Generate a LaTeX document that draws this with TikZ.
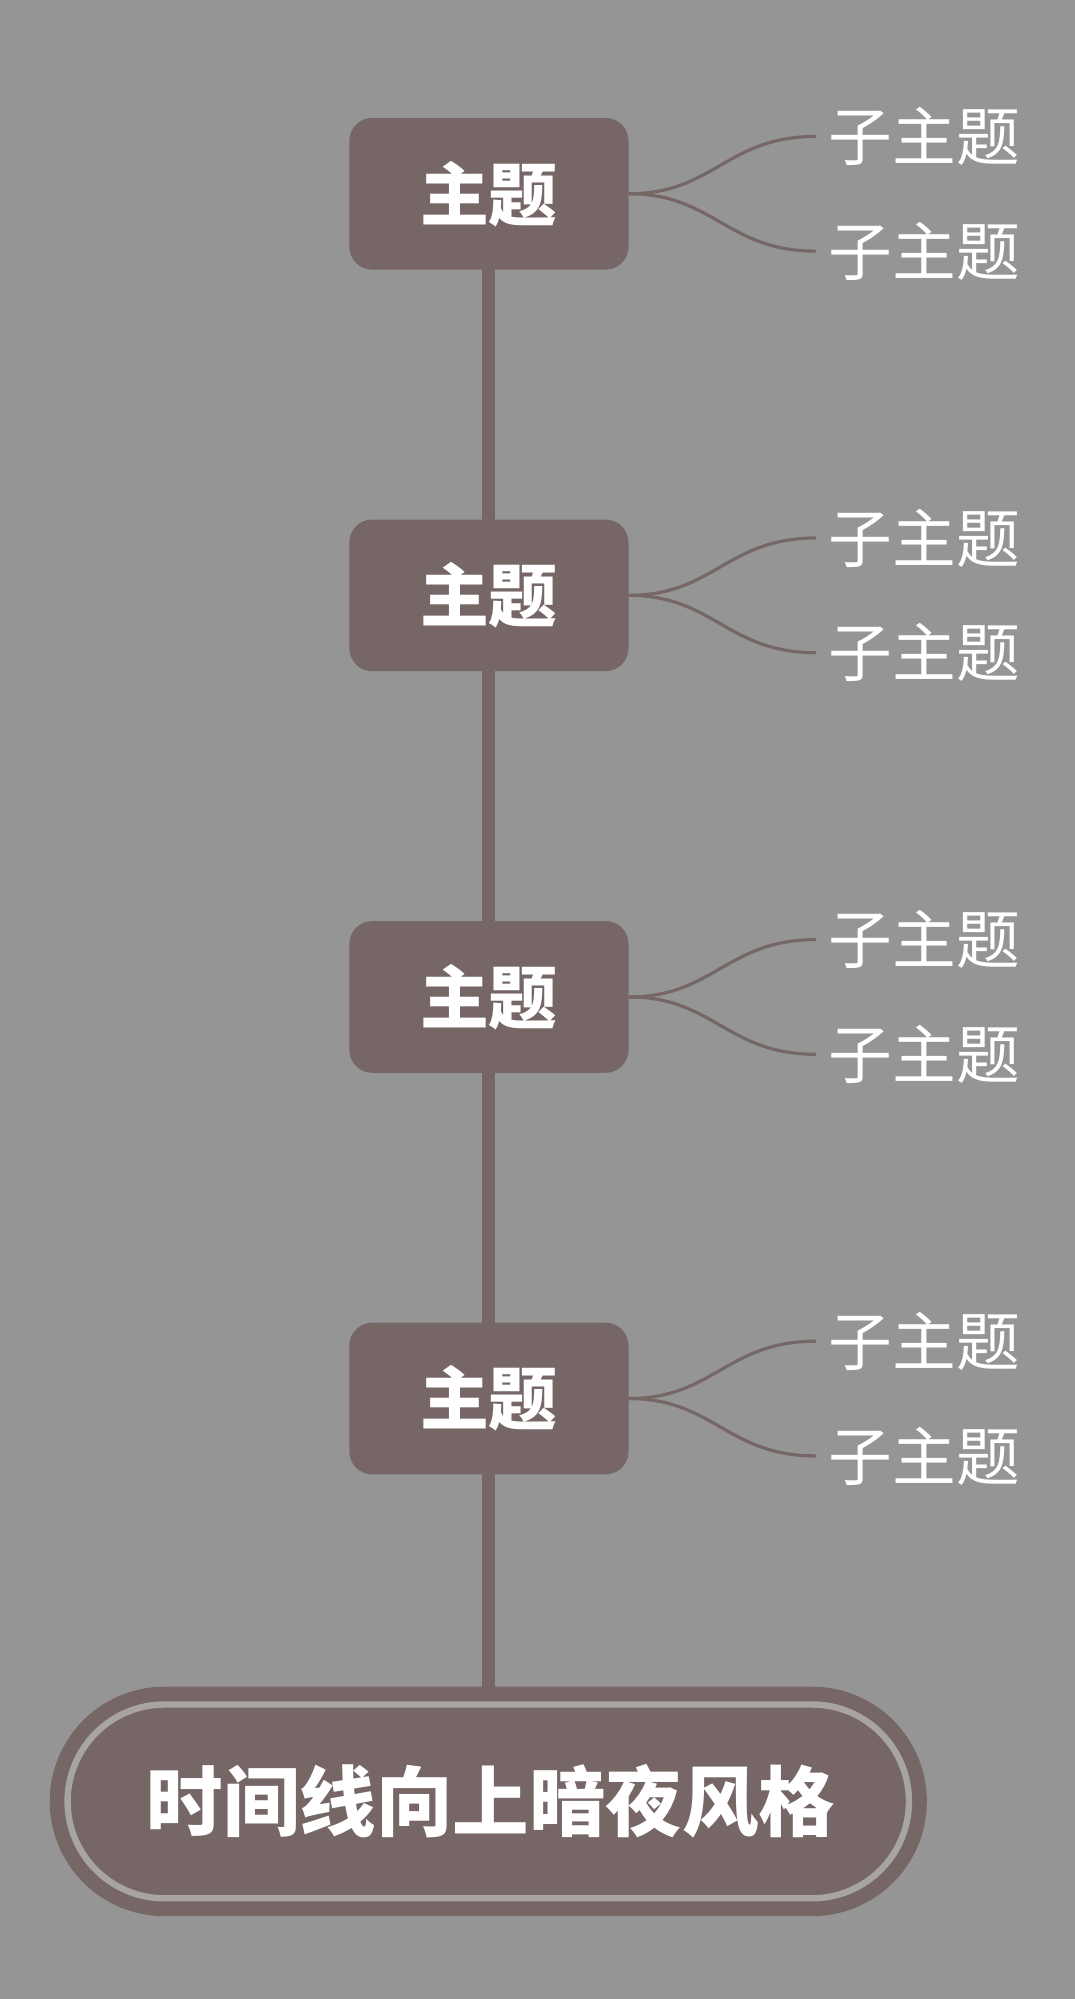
\documentclass[tikz,border=0pt]{standalone}
\usepackage{fontspec}
\newfontfamily\cjk{Noto Sans CJK SC}
\definecolor{bg}{HTML}{959595}
\definecolor{box}{HTML}{766666}
\definecolor{ring}{HTML}{A9A4A4}
\begin{document}
\begin{tikzpicture}[x=1pt,y=-1pt,
  topic/.style={fill=box,rounded corners=18pt,minimum width=219pt,minimum height=119pt,inner sep=0pt,text=white,font=\cjk\bfseries\fontsize{54}{64}\selectfont},
  sub/.style={anchor=west,inner sep=0pt,text=white,font=\cjk\fontsize{50}{60}\selectfont},
  link/.style={draw=box,line width=2.5pt}]
\useasboundingbox[fill=bg] (0,0) rectangle (843,1568);
\draw[box,line width=10pt] (383,211) -- (383,1330);
\foreach \y/\n in {152/a,467/b,782/c,1097/d}{
  \node[topic] (t\n) at (383.5,\y) {主题};
  \coordinate (s\n1) at (640,\y-45);
  \coordinate (s\n2) at (640,\y+45);
  \node[sub] (u\n1) at (650,\y-45) {子主题};
  \node[sub] (u\n2) at (650,\y+45) {子主题};
  \draw[link] (t\n.east) .. controls (560,\y) and (570,\y-45) .. (s\n1);
  \draw[link] (t\n.east) .. controls (560,\y) and (570,\y+45) .. (s\n2);
}
\node[fill=box,rounded corners=90pt,minimum width=688pt,minimum height=180pt,inner sep=0pt] (root) at (383,1413) {};
\draw[ring,line width=5pt,rounded corners=76pt] (53,1337) rectangle (713,1489);
\node[text=white,font=\cjk\bfseries\fontsize{60}{72}\selectfont] (rt) at (385,1413) {时间线向上暗夜风格};
\end{tikzpicture}
\end{document}
